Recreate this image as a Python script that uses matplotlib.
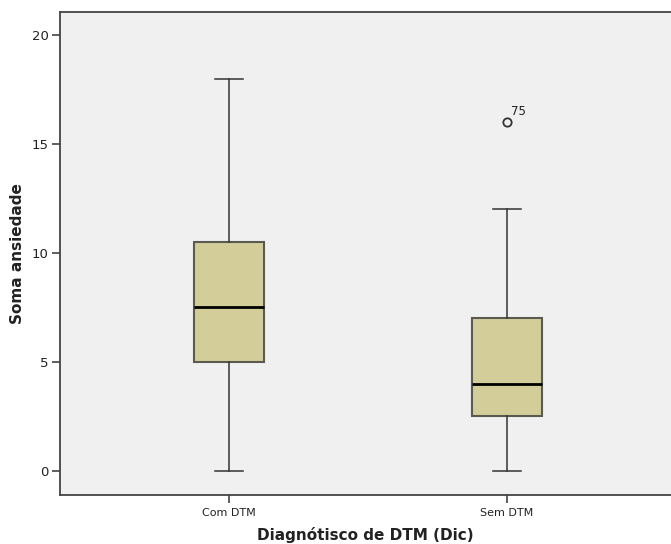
import matplotlib
matplotlib.use("Agg")
import matplotlib.pyplot as plt

categories = ["Com DTM", "Sem DTM"]
whislo = [0, 0]
q1 = [5, 2.5]
med = [7.5, 4]
q3 = [10.5, 7]
whishi = [18, 12]
outliers = [[], [16]]
outlier_ids = [[], ["75"]]

stats = []
for i, name in enumerate(categories):
    stats.append(dict(label=name, whislo=whislo[i], q1=q1[i], med=med[i],
                      q3=q3[i], whishi=whishi[i], fliers=outliers[i]))

fig = plt.figure(figsize=(6.71, 5.44), dpi=100)
ax = fig.add_axes([60 / 671, 49 / 544, 1 - 60 / 671, (495 - 12) / 544])
ax.set_facecolor("#f0f0f0")

ax.bxp(stats, positions=[1, 2], widths=0.25, patch_artist=True,
       boxprops=dict(facecolor="#d3ce99", edgecolor="#5a5a50", linewidth=1.5),
       medianprops=dict(color="black", linewidth=2),
       whiskerprops=dict(color="#333333", linewidth=1.1),
       capprops=dict(color="#333333", linewidth=1.1),
       capwidths=0.1,
       flierprops=dict(marker="o", markerfacecolor="none", markeredgecolor="#333333",
                       markersize=6, markeredgewidth=1.3))

for i, ids in enumerate(outlier_ids):
    for val, lab in zip(outliers[i], ids):
        ax.annotate(lab, (i + 1, val), xytext=(3, 5), textcoords="offset points",
                    fontsize=8.5, color="#222222")

ax.set_xlim(0.392, 2.59)
ax.set_ylim(-1.1, 21.05)
ax.set_yticks([0, 5, 10, 15, 20])
ax.tick_params(axis="both", direction="out", length=6, width=1.1, color="#333333",
               labelcolor="#222222")
ax.tick_params(axis="x", labelsize=8, pad=3)
ax.tick_params(axis="y", labelsize=9.5, pad=2)
for s in ["top", "left", "bottom"]:
    ax.spines[s].set_color("#444444")
    ax.spines[s].set_linewidth(1.3)
ax.spines["right"].set_visible(False)

ax.set_ylabel("Soma ansiedade", fontsize=11, fontweight="bold", color="#222222")
ax.set_xlabel("Diagnótisco de DTM (Dic)", fontsize=11, fontweight="bold", color="#222222")
ax.yaxis.set_label_coords(-0.069, 0.5)
ax.xaxis.set_label_coords(0.5, -0.083)
ax.xaxis.label.set_va("center")
ax.yaxis.label.set_va("center")

fig.savefig("out.png", dpi=100)
